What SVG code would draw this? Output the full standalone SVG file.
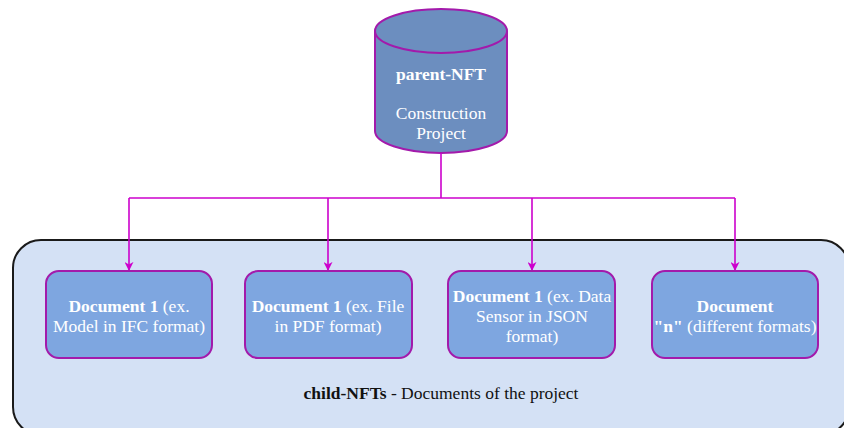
<svg xmlns="http://www.w3.org/2000/svg" width="844" height="428" viewBox="0 0 844 428">
  <defs>
    <style>
      text { font-family: "Liberation Serif", "Times New Roman", serif; font-size: 17.5px; text-anchor: middle; }
      .light { fill: #ffffff; }
      .dark { fill: #111111; }
      .b { font-weight: bold; }
      .doc { fill: #7ea6e0; stroke: #a31aab; stroke-width: 2; }
      .link { fill: none; stroke: #cc00cc; stroke-width: 1.6; }
    </style>
    <marker id="arrow" viewBox="0 0 10 10" refX="9" refY="5" markerWidth="9" markerHeight="9" orient="auto" markerUnits="userSpaceOnUse">
      <path d="M0,0 L10,5 L0,10 L3,5 Z" fill="#cc00cc"/>
    </marker>
  </defs>
  <rect width="844" height="428" fill="#ffffff"/>

  <!-- container for the child documents -->
  <g id="child-container">
    <rect x="13" y="240" width="836" height="195" rx="28" ry="28" fill="#d4e1f5" stroke="#1a1a1a" stroke-width="2"/>
    <text class="dark" x="441" y="399"><tspan class="b">child-NFTs</tspan> - Documents of the project</text>
  </g>

  <!-- parent cylinder -->
  <g id="parent-nft">
    <path d="M375,31 L375,131 A66,22 0 0 0 507,131 L507,31" fill="#6c8ebf" stroke="#a31aab" stroke-width="2"/>
    <ellipse cx="441" cy="31" rx="66" ry="22" fill="#6c8ebf" stroke="#a31aab" stroke-width="2"/>
    <text class="light b" x="441" y="80">parent-NFT</text>
    <text class="light" x="441" y="119">Construction</text>
    <text class="light" x="441" y="139">Project</text>
  </g>

  <!-- connectors -->
  <g id="connectors">
    <path class="link" d="M441,153 L441,198"/>
    <path class="link" d="M129,198 L735,198"/>
    <path class="link" d="M129,198 L129,270" marker-end="url(#arrow)"/>
    <path class="link" d="M328,198 L328,270" marker-end="url(#arrow)"/>
    <path class="link" d="M532,198 L532,270" marker-end="url(#arrow)"/>
    <path class="link" d="M735,198 L735,270" marker-end="url(#arrow)"/>
  </g>

  <g id="doc-ifc">
    <rect class="doc" x="46" y="271" width="166" height="87" rx="13"/>
    <text class="light" x="129" y="312"><tspan class="b">Document 1</tspan> (ex.</text>
    <text class="light" x="129" y="332">Model in IFC format)</text>
  </g>

  <g id="doc-pdf">
    <rect class="doc" x="245" y="271" width="167" height="87" rx="13"/>
    <text class="light" x="328" y="312"><tspan class="b">Document 1</tspan> (ex. File</text>
    <text class="light" x="328" y="332">in PDF format)</text>
  </g>

  <g id="doc-json">
    <rect class="doc" x="448" y="271" width="167" height="87" rx="13"/>
    <text class="light" x="532" y="302"><tspan class="b">Document 1</tspan> (ex. Data</text>
    <text class="light" x="532" y="322">Sensor in JSON</text>
    <text class="light" x="532" y="342">format)</text>
  </g>

  <g id="doc-n">
    <rect class="doc" x="652" y="271" width="166" height="87" rx="13"/>
    <text class="light b" x="735" y="312">Document</text>
    <text class="light" x="735" y="332"><tspan class="b">"n"</tspan> (different formats)</text>
  </g>
</svg>
